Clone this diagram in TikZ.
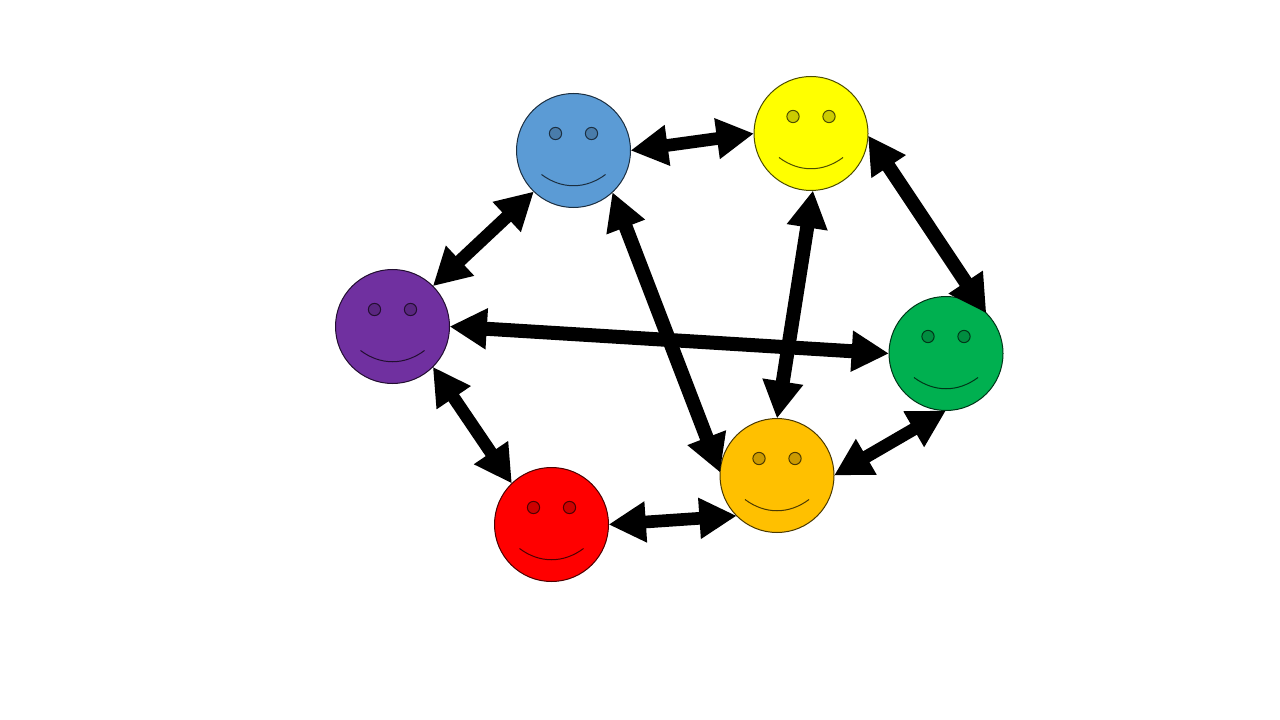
\documentclass[tikz,border=0pt]{standalone}
\usetikzlibrary{arrows.meta}
\definecolor{cblue}{HTML}{5B9BD5}
\definecolor{cyellow}{HTML}{FFFF00}
\definecolor{cgreen}{HTML}{00B050}
\definecolor{corange}{HTML}{FFC000}
\definecolor{cred}{HTML}{FF0000}
\definecolor{cpurple}{HTML}{7030A0}
\tikzset{
  x=0.75pt,y=-0.75pt,
  facebody/.style={circle,minimum size=85.5pt,inner sep=0pt,outer sep=0pt,draw=#1!30!black,fill=#1,line width=0.75pt},
  link/.style={line width=9.5pt,draw=black,{Triangle[length=28pt,width=29pt]}-{Triangle[length=28pt,width=29pt]}},
  longlink/.style={link,line width=10.5pt},
}
\newcommand{\smileface}[4]{%
  \node[facebody=#4] (#1) at (#2,#3) {};
  \begin{scope}[shift={(#2,#3)}]
    \draw[draw=#4!30!black,fill=#4!80!black,line width=0.75pt] (-18,-17) circle[radius=4.6pt];
    \draw[draw=#4!30!black,fill=#4!80!black,line width=0.75pt] (18,-17) circle[radius=4.6pt];
    \draw[draw=#4!30!black,line width=0.75pt] (-32,24) .. controls (-12,39) and (12,39) .. (32,24);
  \end{scope}}
\begin{document}
\begin{tikzpicture}
\useasboundingbox (0,0) rectangle (1280,720);
\fill[white] (0,0) rectangle (1280,720);
\smileface{blue}{573.5}{150.5}{cblue}
\smileface{yellow}{811}{133.5}{cyellow}
\smileface{green}{946}{353.5}{cgreen}
\smileface{orange}{777}{475.5}{corange}
\smileface{red}{551.5}{524.5}{cred}
\smileface{purple}{392.5}{326.5}{cpurple}
\draw[link] (blue.0) -- (yellow.180);
\draw[longlink] (yellow.-2) -- (green.45);
\draw[link] (green.-90) -- (orange.0);
\draw[link] (orange.225) -- (red.0);
\draw[link] (red.134) -- (purple.-45);
\draw[link] (purple.45) -- (blue.226);
\draw[longlink] (purple.0) -- (green.180);
\draw[longlink] (blue.-47) -- (orange.177);
\draw[longlink] (yellow.-88) -- (orange.90);
\end{tikzpicture}
\end{document}
